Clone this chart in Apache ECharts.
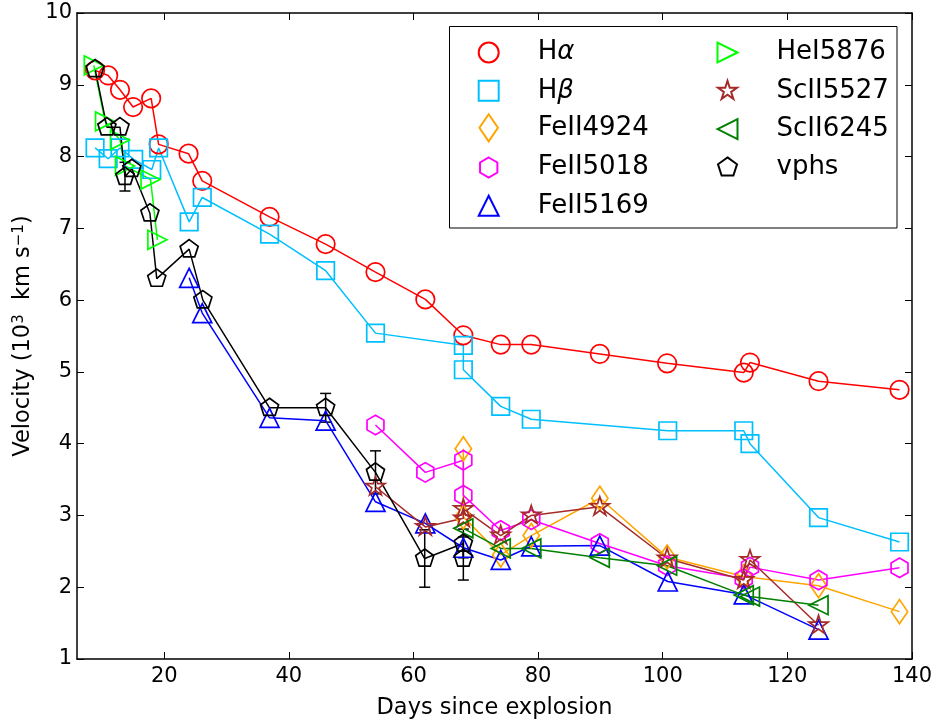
<!DOCTYPE html>
<html>
<head>
<meta charset="utf-8">
<script src="https://cdn.jsdelivr.net/npm/echarts@6/dist/echarts.min.js"></script>
<style>html,body{margin:0;padding:0;background:#fff}#c{width:939px;height:726px}</style>
</head>
<body>
<div id="c"></div>
<script>
// ---- data ----
const xTicks = [20, 40, 60, 80, 100, 120, 140];
const yTicks = [1, 2, 3, 4, 5, 6, 7, 8, 9, 10];

const haDays = [8.9, 11.0, 12.9, 15.0, 17.9, 19.1, 23.9, 26.1, 36.9, 45.9, 53.9, 61.9, 68.0, 74.0, 78.9, 89.9, 100.7, 113.0, 114.0, 125.0, 138.0];
const haVel  = [9.20, 9.13, 8.93, 8.69, 8.81, 8.17, 8.04, 7.66, 7.16, 6.78, 6.39, 6.01, 5.51, 5.38, 5.38, 5.25, 5.12, 4.99, 5.13, 4.87, 4.75];

const hbDays = [8.9, 11.0, 12.9, 15.1, 18.0, 19.1, 24.0, 26.1, 36.9, 45.9, 53.9, 68.0, 68.0, 74.0, 78.9, 100.8, 113.0, 114.0, 125.0, 138.0];
const hbVel  = [8.12, 7.97, 8.12, 7.96, 7.82, 8.12, 7.09, 7.43, 6.92, 6.41, 5.54, 5.37, 5.03, 4.52, 4.34, 4.18, 4.18, 4.00, 2.97, 2.63];

const fe4924Days = [68.0, 68.0, 74.0, 78.9, 89.9, 100.7, 113.0, 125.0, 138.0];
const fe4924Vel  = [3.93, 2.98, 2.45, 2.72, 3.24, 2.42, 2.15, 2.02, 1.66];

const fe5018Days = [53.9, 61.9, 68.0, 68.0, 74.0, 78.9, 89.9, 100.7, 113.0, 114.0, 125.0, 138.0];
const fe5018Vel  = [4.26, 3.60, 3.77, 3.28, 2.79, 2.94, 2.61, 2.30, 2.12, 2.28, 2.10, 2.27];

const fe5169Days = [24.0, 26.1, 36.9, 45.9, 53.9, 61.9, 68.0, 74.0, 78.9, 89.9, 100.8, 113.0, 125.0];
const fe5169Vel  = [6.31, 5.82, 4.36, 4.32, 3.19, 2.89, 2.55, 2.38, 2.57, 2.58, 2.08, 1.90, 1.41];

const heDays = [8.7, 10.5, 12.9, 13.7, 17.8, 18.9];
const heVel  = [9.27, 8.49, 8.23, 7.87, 7.68, 6.84];

const sc5527Days = [53.9, 61.9, 68.0, 68.0, 74.0, 78.9, 89.9, 100.7, 113.0, 114.0, 125.0];
const sc5527Vel  = [3.40, 2.84, 2.96, 3.09, 2.72, 3.00, 3.12, 2.40, 2.10, 2.38, 1.47];

const sc6245Days = [68.0, 74.0, 78.9, 89.9, 100.7, 113.0, 114.0, 125.0];
const sc6245Vel  = [2.82, 2.54, 2.54, 2.41, 2.30, 1.89, 1.87, 1.75];

const vphsDays = [8.9, 10.8, 12.9, 13.7, 14.8, 17.7, 18.8, 24.0, 26.2, 36.9, 45.9, 53.9, 61.8, 68.0, 68.0];
const vphsVel  = [9.22, 8.41, 8.41, 7.72, 7.83, 7.21, 6.30, 6.71, 6.00, 4.50, 4.50, 3.60, 2.40, 2.61, 2.40];
const vphsErr  = [0, 0, 0, 0.2, 0, 0, 0, 0, 0, 0, 0.2, 0.3, 0.4, 0.2, 0.3];

// ---- styling ----
const FONT = 'DejaVu Sans';
const SYM = {
  diamond: 'path://M-1,-1M1,1M0,-1L0.68,0L0,1L-0.68,0Z',
  hexagon: 'path://M-1,-1M1,1M0,-1L0.866,-0.5L0.866,0.5L0,1L-0.866,0.5L-0.866,-0.5Z',
  pentagon: 'path://M-1,-1M1,1M0,-1L0.951,-0.309L0.588,0.809L-0.588,0.809L-0.951,-0.309Z',
  star: 'path://M-1,-1M1,1M0,-1L0.2245,-0.309L0.951,-0.309L0.3633,0.118L0.588,0.809L0,0.382L-0.588,0.809L-0.3633,0.118L-0.951,-0.309L-0.2245,-0.309Z'
};

function zip(xs, ys) { return xs.map((x, i) => [x, ys[i]]); }

function lineSeries(name, xs, ys, color, symbol, size, rotate) {
  return {
    type: 'line', name: name, data: zip(xs, ys),
    symbol: symbol, symbolSize: size, symbolRotate: rotate || 0,
    showAllSymbol: true, animation: false,
    lineStyle: { color: color, width: 1.5 },
    itemStyle: { color: 'none', borderColor: color, borderWidth: 1.7 },
    emphasis: { disabled: true }
  };
}

const series = [
  lineSeries('Hα', haDays, haVel, '#ff0000', 'circle', 18.5),
  lineSeries('Hβ', hbDays, hbVel, '#00bfff', 'rect', 17.5),
  lineSeries('FeII4924', fe4924Days, fe4924Vel, '#ffa500', SYM.diamond, 24),
  lineSeries('FeII5018', fe5018Days, fe5018Vel, '#ff00ff', SYM.hexagon, 19.5),
  lineSeries('FeII5169', fe5169Days, fe5169Vel, '#0000ff', 'triangle', 19),
  lineSeries('HeI5876', heDays, heVel, '#00ff00', 'triangle', 19, -90),
  lineSeries('ScII5527', sc5527Days, sc5527Vel, '#a52a2a', SYM.star, 20),
  lineSeries('ScII6245', sc6245Days, sc6245Vel, '#008000', 'triangle', 19, 90),
  {
    type: 'custom', animation: false, silent: true,
    data: vphsDays.map((d, i) => [d, vphsVel[i], vphsErr[i]]).filter(r => r[2] > 0),
    encode: { x: 0, y: 1 },
    renderItem: function (params, api) {
      const x = api.value(0), y = api.value(1), e = api.value(2);
      const t = api.coord([x, y + e]), b = api.coord([x, y - e]);
      const cap = 5.5;
      const st = { stroke: '#000', lineWidth: 1.5 };
      return { type: 'group', children: [
        { type: 'line', shape: { x1: t[0], y1: t[1], x2: b[0], y2: b[1] }, style: st },
        { type: 'line', shape: { x1: t[0] - cap, y1: t[1], x2: t[0] + cap, y2: t[1] }, style: st },
        { type: 'line', shape: { x1: b[0] - cap, y1: b[1], x2: b[0] + cap, y2: b[1] }, style: st }
      ]};
    }
  },
  lineSeries('vphs', vphsDays, vphsVel, '#000000', SYM.pentagon, 19)
];

const legendText = {
  fontSize: 26, fontFamily: FONT, color: '#000',
  rich: { it: { fontSize: 26, fontFamily: FONT, fontStyle: 'italic', color: '#000' } }
};
function legendFmt(name) {
  if (name === 'Hα') return 'H{it|α}';
  if (name === 'Hβ') return 'H{it|β}';
  return name;
}
function mkLegend(names, left, top, itemHeight) {
  return {
    data: names, left: left, top: top,
    orient: 'vertical', itemWidth: 88, itemHeight: itemHeight, itemGap: 12.3,
    selectedMode: false, textStyle: legendText, formatter: legendFmt,
    lineStyle: { opacity: 0 }, padding: 0
  };
}

const axisLineStyle = { lineStyle: { color: '#000', width: 1.5 } };
const tickStyle = { inside: true, length: 7, lineStyle: { color: '#000', width: 1 } };

const option = {
  animation: false,
  backgroundColor: '#fff',
  grid: { left: 77, right: 27, top: 13, bottom: 67, containLabel: false },
  graphic: [{
    type: 'rect', z: 1,
    shape: { x: 449.5, y: 26.5, width: 447.5, height: 201.5 },
    style: { fill: '#fff', stroke: '#000', lineWidth: 1 }
  }],
  legend: [
    mkLegend(['Hα', 'Hβ'], 443.7, 39.5, 25),
    mkLegend(['FeII4924'], 443.7, 111.7, 34),
    mkLegend(['FeII5018', 'FeII5169'], 443.7, 154.5, 25),
    mkLegend(['HeI5876', 'ScII5527', 'ScII6245', 'vphs'], 682.5, 39.5, 25)
  ],
  xAxis: [{
    type: 'value', position: 'bottom', min: 6, max: 140,
    name: 'Days since explosion', nameLocation: 'middle', nameGap: 38,
    nameTextStyle: { fontSize: 22.5, fontFamily: FONT, color: '#000' },
    axisLine: axisLineStyle,
    axisTick: Object.assign({ customValues: xTicks }, tickStyle),
    axisLabel: { customValues: xTicks, fontSize: 21, fontFamily: FONT, color: '#000', margin: 7 },
    splitLine: { show: false }
  }, {
    type: 'value', position: 'top', min: 6, max: 140,
    axisLine: axisLineStyle,
    axisTick: Object.assign({ customValues: xTicks }, tickStyle),
    axisLabel: { show: false },
    splitLine: { show: false }
  }],
  yAxis: [{
    type: 'value', position: 'left', min: 1, max: 10, interval: 1,
    name: 'Velocity (10{sup|3}  km s{sup|−1})', nameLocation: 'middle', nameGap: 42, nameRotate: 90,
    nameTextStyle: {
      fontSize: 22.5, fontFamily: FONT, color: '#000',
      rich: { sup: { fontSize: 15, fontFamily: FONT, color: '#000', verticalAlign: 'top' } }
    },
    axisLine: axisLineStyle,
    axisTick: tickStyle,
    axisLabel: { fontSize: 21, fontFamily: FONT, color: '#000', margin: 5 },
    splitLine: { show: false }
  }, {
    type: 'value', position: 'right', min: 1, max: 10, interval: 1,
    axisLine: axisLineStyle,
    axisTick: tickStyle,
    axisLabel: { show: false },
    splitLine: { show: false }
  }],
  series: series
};

const chart = echarts.init(document.getElementById('c'), null, { renderer: 'canvas' });
chart.setOption(option);
</script>
</body>
</html>
